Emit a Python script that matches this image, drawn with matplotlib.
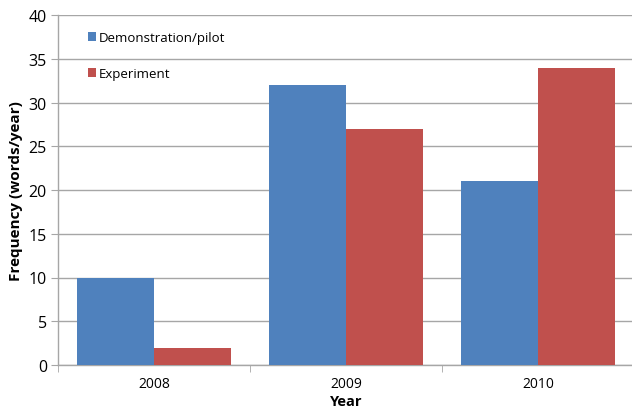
import matplotlib
matplotlib.use("Agg")
import matplotlib.pyplot as plt
import numpy as np

plt.rcParams['font.family'] = ['Open Sans', 'DejaVu Sans']

# data
years = ['2008', '2009', '2010']
demo = [10, 32, 21]
experiment = [2, 27, 34]
y_ticks = [0, 5, 10, 15, 20, 25, 30, 35, 40]

blue = '#4F81BD'
red = '#C0504D'
grid_c = '#A6A6A6'

fig = plt.figure(figsize=(6.32, 4.10), dpi=100)
ax = fig.add_axes([58 / 632, 1 - 366 / 410, 576 / 632, 350 / 410])

x = np.arange(len(years))
w = 0.4
ax.bar(x - w / 2, demo, w, color=blue, label='Demonstration/pilot', zorder=3)
ax.bar(x + w / 2, experiment, w, color=red, label='Experiment', zorder=3)

ax.set_xlim(-0.5, len(years) - 0.5)
ax.set_ylim(0, 40)
ax.set_yticks(y_ticks)
ax.yaxis.grid(True, color=grid_c, linewidth=1.0, zorder=0)
ax.set_axisbelow(True)

ax.set_xticks(x)
ax.set_xticklabels(years)
ax.set_xticks(np.arange(-0.5, len(years)), minor=True)
ax.tick_params(axis='x', which='major', length=0, labelsize=10, pad=8)
ax.tick_params(axis='x', which='minor', length=5, color=grid_c, direction='out')
ax.tick_params(axis='y', length=5, color=grid_c, labelsize=11.5, pad=3)

for s in ['top', 'right']:
    ax.spines[s].set_visible(False)
for s in ['left', 'bottom']:
    ax.spines[s].set_color(grid_c)
    ax.spines[s].set_linewidth(1.0)

ax.set_ylabel('Frequency (words/year)', fontweight='bold', fontsize=11, labelpad=4)
ax.set_xlabel('Year', fontweight='bold', fontsize=10.5, labelpad=2)

ax.legend(loc='upper left', bbox_to_anchor=(76 / 632, 1 - 20 / 410),
          bbox_transform=fig.transFigure, frameon=False,
          handlelength=0.65, handleheight=0.65, handletextpad=0.15,
          labelspacing=1.75, fontsize=9.5)

fig.savefig('out.png', dpi=100)
